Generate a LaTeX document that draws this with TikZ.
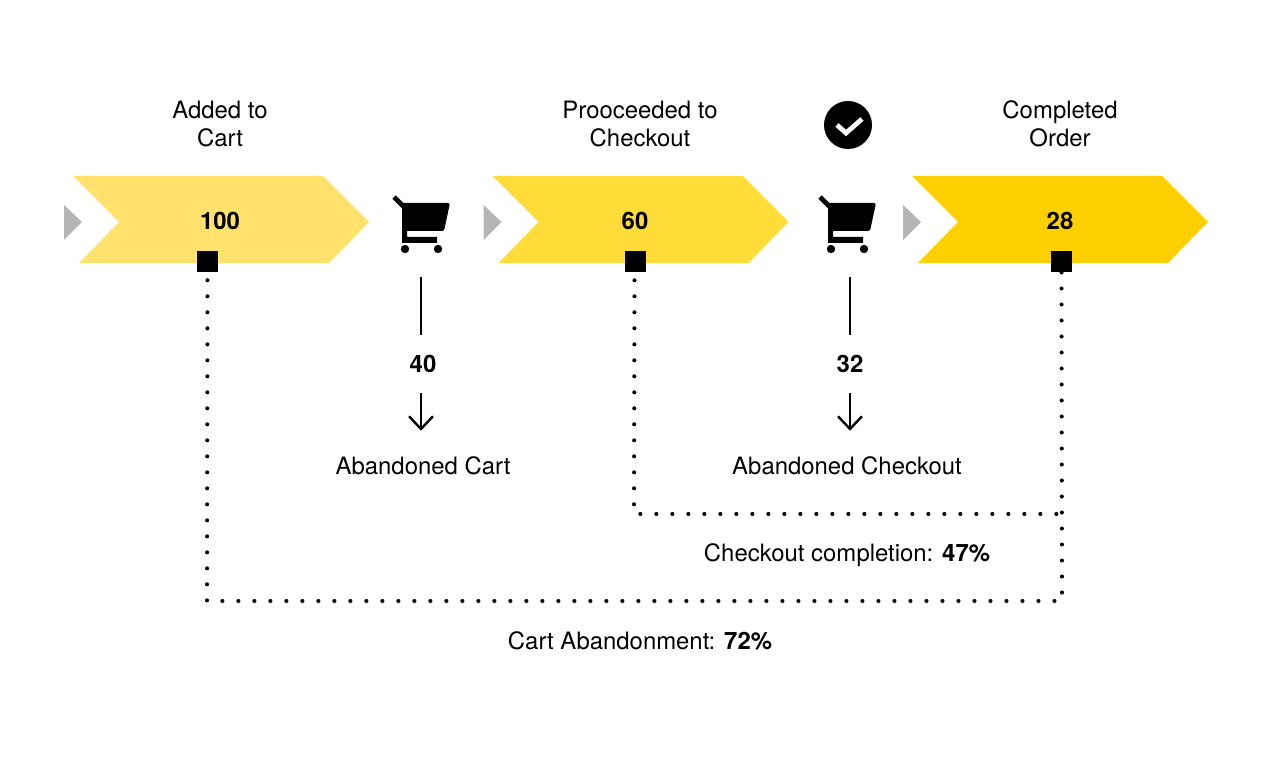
\documentclass[tikz,border=0pt]{standalone}
\usepackage{fontspec}
\setmainfont{TeX Gyre Heros}
\usetikzlibrary{arrows.meta}
\definecolor{stageA}{HTML}{FFE16B}
\definecolor{stageB}{HTML}{FFDC38}
\definecolor{stageC}{HTML}{FFD000}
\definecolor{markgray}{HTML}{B5B5B5}
\begin{document}
\begin{tikzpicture}[
  x=0.025cm, y=-0.025cm,
  label/.style={font=\fontsize{17}{20}\selectfont, align=center, inner sep=0pt},
  count/.style={font=\fontsize{17}{20}\selectfont\bfseries, inner sep=0pt},
  dropcount/.style={count, minimum height=1.45cm},
  droplabel/.style={label, minimum height=1.75cm},
  endpoint/.style={fill=black, minimum size=0.525cm, inner sep=0pt},
  dots/.style={line width=2.9pt, line cap=round, dash pattern=on 0pt off 11.38pt},
  drop/.style={line width=1.7pt},
  droparrow/.style={line width=1.7pt, -{Straight Barb[length=9pt,width=17pt]}},
  stage/.pic={
    \fill[pic actions] (0,0) -- (250,0) -- (296,46) -- (256,87) -- (6,87) -- (46,46) -- cycle;
    \fill[markgray] (-9,29) -- (9,46) -- (-9,64) -- cycle;
  },
  cart/.pic={
    \draw[line width=3.4pt] (0,0) -- (11,11);
    \fill (8,6) [rounded corners=1.5pt] -- (56,6) -- (50,34) [sharp corners] -- (13,34) -- (13,40) -- (43,40) -- (43,46) -- (8,46) -- cycle;
    \fill (11,52) circle (4.2);
    \fill (44,52) circle (4.2);
  }
]
\useasboundingbox (0,0) rectangle (1280,760);

% Stages
\pic[stageA] at (73,176) {stage};
\pic[stageB] at (492.5,176) {stage};
\pic[stageC] at (912,176) {stage};

\node[label] (added) at (220,124) {Added to\\Cart};
\node[label] (proceeded) at (640,124) {Prooceeded to\\Checkout};
\node[label] (completed) at (1060,124) {Completed\\Order};

\node[count] (n100) at (220,221) {100};
\node[count] (n60) at (635,221) {60};
\node[count] (n28) at (1060,221) {28};

% Check mark
\node[circle, fill=black, minimum size=1.2cm, inner sep=0pt] (check) at (848,125) {};
\draw[white, line width=3.4pt] (837,125) -- (846,133) -- (862,119);

% Carts
\pic at (394,197) {cart};
\pic at (820,197) {cart};

% Drop-offs
\coordinate (dropA) at (421,277);
\coordinate (dropB) at (850,277);
\node[dropcount] (n40) at (423,364) {40};
\node[dropcount] (n32) at (850,364) {32};
\node[droplabel] (lostcart) at (423,466) {Abandoned Cart};
\node[droplabel] (lostcheckout) at (847,466) {Abandoned Checkout};
\draw[drop] (dropA) -- (dropA |- n40.north);
\draw[droparrow] (dropA |- n40.south) -- (dropA |- lostcart.north);
\draw[drop] (dropB) -- (dropB |- n32.north);
\draw[droparrow] (dropB |- n32.south) -- (dropB |- lostcheckout.north);

% Conversion brackets
\node[endpoint] (endA) at (207.5,261.5) {};
\node[endpoint] (endB) at (635.5,261.5) {};
\node[endpoint] (endC) at (1061.5,261.5) {};
\coordinate (cornerA) at (207,601);
\coordinate (cornerB) at (1062,601);
\coordinate (cornerC) at (634,514);
\coordinate (cornerD) at (1062,514);
\draw[dots] (endA.south) ++(0,8) -- (cornerA) -- (cornerB) -- (endC.south);
\draw[dots] (endB.south) ++(-1,8) -- (cornerC) -- (cornerD);

\node[label] (checkoutrate) at (847,555.5) {Checkout completion: \textbf{47\%}};
\node[label] (cartrate) at (640,641) {Cart Abandonment: \textbf{72\%}};
\end{tikzpicture}
\end{document}
